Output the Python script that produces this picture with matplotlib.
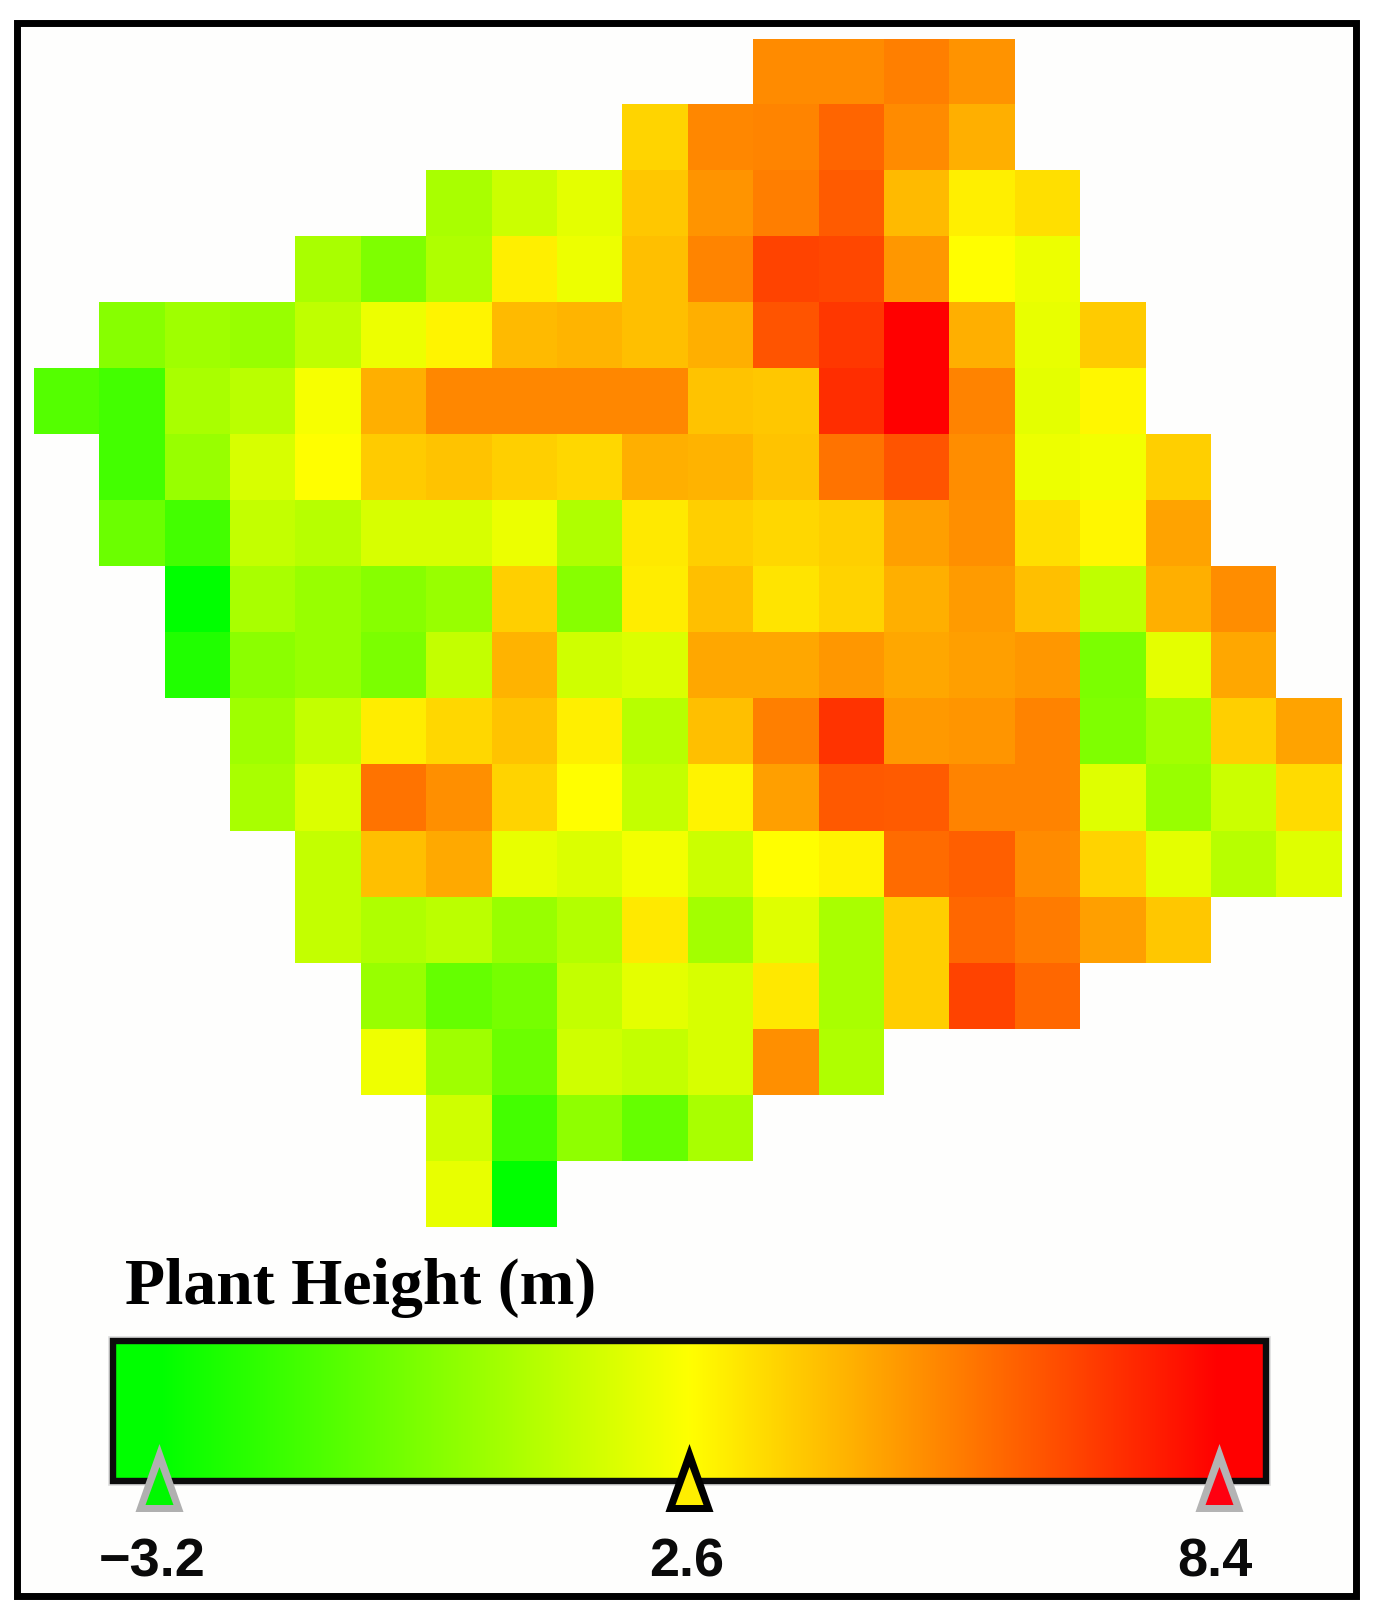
import numpy as np
from matplotlib import pyplot as plt
from matplotlib.colors import LinearSegmentedColormap, Normalize
from matplotlib.patches import Polygon, Rectangle

# plant height per cell, each row starts at its own column
row_starts = [11, 9, 6, 4, 1, 0, 1, 1, 2, 2, 3, 3, 4, 4, 5, 5, 6, 6]
row_values = [
    [5.22, 5.22, 5.49, 5.03],
    [3.56, 5.31, 5.37, 6.07, 5.22, 4.40],
    [0.67, 1.44, 1.99, 3.85, 5.01, 5.51, 6.31, 4.15, 2.94, 3.31],
    [0.67, -0.31, 0.80, 2.94, 2.21, 4.03, 5.37, 6.85, 6.76, 4.94, 2.6, 2.21],
    [-0.11, 0.44, 0.28, 1.17, 2.21, 2.83, 4.15, 4.28, 4.03, 4.40, 6.47, 7.13, 8.4, 4.40, 2.08, 3.76],
    [-1.27, -1.65, 0.67, 1.05, 2.44, 4.40, 5.31, 5.31, 5.31, 5.31, 3.94, 3.85, 7.35, 8.4, 5.40, 1.99, 2.76],
    [-1.65, 0.28, 1.71, 2.6, 3.76, 3.94, 3.67, 3.49, 4.40, 4.31, 3.94, 5.76, 6.47, 5.17, 2.21, 2.35, 3.67],
    [-0.74, -1.65, 1.26, 0.99, 1.71, 1.71, 2.17, 0.80, 3.08, 3.67, 3.49, 3.67, 4.76, 5.12, 3.31, 2.76, 4.67],
    [-3.2, 0.67, 0.28, -0.11, 0.28, 3.67, -0.11, 2.99, 4.03, 3.21, 3.58, 4.40, 4.85, 4.03, 1.17, 4.40, 5.17],
    [-2.43, -0.02, 0.28, -0.38, 1.26, 4.31, 1.53, 1.80, 4.58, 4.58, 4.94, 4.58, 4.76, 4.94, -0.38, 1.99, 4.58],
    [0.44, 1.26, 2.99, 3.49, 3.94, 2.94, 0.99, 4.03, 5.49, 7.22, 4.90, 4.99, 5.40, -0.29, 0.53, 3.67, 4.67],
    [0.67, 1.80, 5.76, 5.12, 3.58, 2.6, 1.26, 2.85, 4.76, 6.35, 6.31, 5.40, 5.40, 1.89, 0.28, 1.44, 3.40],
    [1.26, 4.03, 4.53, 2.08, 1.80, 2.35, 1.44, 2.6, 2.85, 5.94, 6.22, 5.22, 3.58, 1.99, 0.99, 1.89],
    [1.26, 0.80, 1.08, 0.28, 0.89, 3.08, 0.53, 1.89, 0.67, 3.69, 6.03, 5.58, 4.76, 3.85],
    [0.28, -0.88, -0.49, 1.26, 1.99, 1.71, 3.12, 0.67, 3.71, 6.85, 6.03],
    [2.26, 0.44, -0.74, 1.53, 1.26, 1.71, 5.12, 0.80],
    [1.53, -1.65, 0.08, -0.88, 0.67],
    [2.08, -3.2],
]
tick_values = [-3.2, 2.6, 8.4]
tick_labels = ['\u22123.2', '2.6', '8.4']
tick_fills = ['#00f800', '#ffee00', '#ff0010']
tick_edges = ['#b0b0b0', '#000000', '#b4b4b4']
label_x = [152, 686.5, 1215]

W, H = 1375, 1615
paper = '#fefefd'
cmap = LinearSegmentedColormap.from_list('gyr', ['#00ff00', '#ffff00', '#ff0000'], N=512)
norm = Normalize(vmin=tick_values[0], vmax=tick_values[-1])


def px_axes(left, top, right, bottom):
    # axes placed by picture pixels, y counted from the top
    return fig.add_axes([left / W, 1 - bottom / H, (right - left) / W, (bottom - top) / H])


fig = plt.figure(figsize=(W / 100, H / 100), dpi=100, facecolor='white')

# page in pixel coordinates: frame and the soft edge behind the colour bar
page = fig.add_axes([0, 0, 1, 1], zorder=0)
page.set_xlim(0, W)
page.set_ylim(H, 0)
page.axis('off')
page.add_patch(Rectangle((17.5, 24), 1339, 1573, facecolor=paper, edgecolor='black', linewidth=5))
page.add_patch(Rectangle((113.5, 1342), 1152.5, 140, facecolor='none', edgecolor='#dedede', linewidth=7))

# the map
grid = np.full((len(row_values), 20), np.nan)
for r, (start, vals) in enumerate(zip(row_starts, row_values)):
    grid[r, start:start + len(vals)] = vals

ax = px_axes(34, 39.5, 1342, 1228)
ax.imshow(np.ma.masked_invalid(grid), cmap=cmap, norm=norm, aspect='auto', interpolation='nearest')
ax.axis('off')

# colour bar, pure green and pure red run on past the end values
bar_left, bar_right = 117, 1263
tick_left, tick_right = 159.5, 1219.5
per_px = (tick_values[-1] - tick_values[0]) / (tick_right - tick_left)
bar_lo = tick_values[0] - (tick_left - bar_left) * per_px
bar_hi = tick_values[-1] + (bar_right - tick_right) * per_px

cax = px_axes(bar_left - 1, 1344, bar_right + 1, 1479)
cax.imshow(np.linspace(bar_lo, bar_hi, 1024)[None, :], cmap=cmap, norm=norm, aspect='auto',
           extent=[bar_lo, bar_hi, 0, 1])
cax.axis('off')

top = fig.add_axes([0, 0, 1, 1], zorder=5)
top.set_xlim(0, W)
top.set_ylim(H, 0)
top.axis('off')
top.patch.set_alpha(0)
top.add_patch(Rectangle((113.5, 1342), 1152.5, 140, facecolor='none', edgecolor='#0c0c0c', linewidth=4.6))

for v, label, lx, fill, edge in zip(tick_values, tick_labels, label_x, tick_fills, tick_edges):
    xc = bar_left + (v - bar_lo) / per_px
    # outer triangle in the edge colour, the smaller one inside holds the fill
    top.add_patch(Polygon([[xc, 1445], [xc + 24, 1513], [xc - 24, 1513]], closed=True,
                          facecolor=edge, edgecolor='none'))
    top.add_patch(Polygon([[xc, 1468], [xc + 14, 1506], [xc - 14, 1506]], closed=True,
                          facecolor=fill, edgecolor='none'))
    top.text(lx, 1577, label, family='Liberation Sans', weight='bold', size=39,
             ha='center', va='baseline', color='#0a0a0a')

top.text(125, 1304, 'Plant Height (m)', family='Liberation Serif', weight='bold', size=47.3,
         ha='left', va='baseline', color='black')

fig.savefig('out.png', dpi=100)
